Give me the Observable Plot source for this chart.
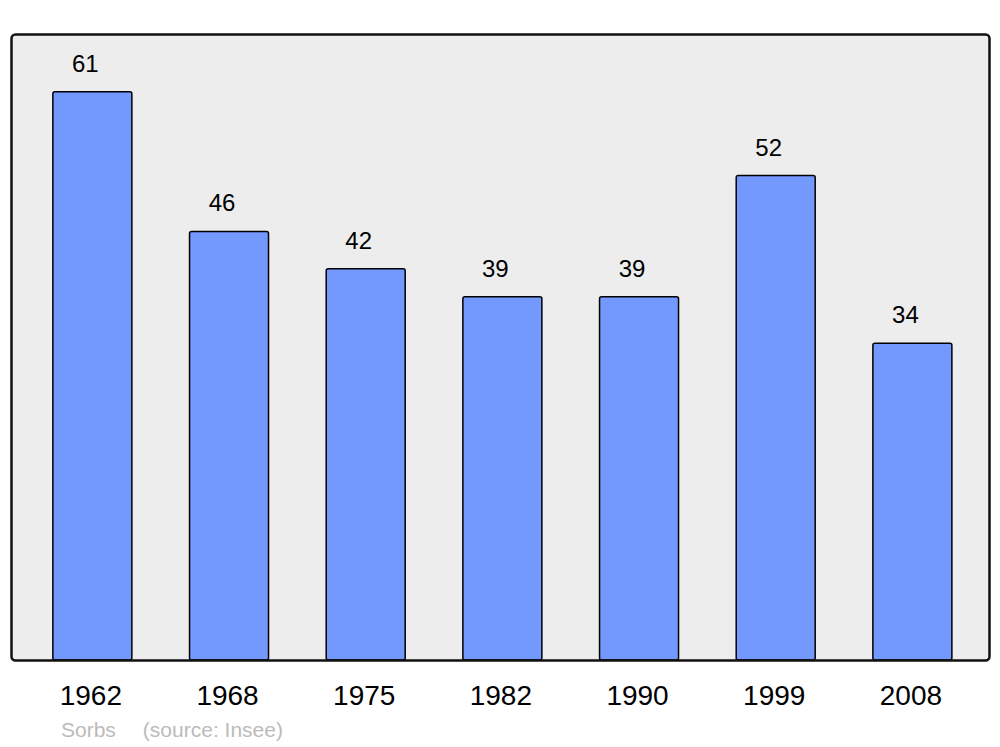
<!DOCTYPE html>
<html>
<head>
<meta charset="utf-8">
<script src="https://cdn.jsdelivr.net/npm/d3@7"></script>
<script src="https://cdn.jsdelivr.net/npm/@observablehq/plot@0.6"></script>
<style>
  body { margin: 0; background: #fff; font-family: "Liberation Sans", Arial, sans-serif; }
  #cap { margin: 7px 0 0 61px; font-size: 21px; color: #bbbbbb; line-height: 22px; white-space: pre; }
</style>
</head>
<body>
<div id="chart"></div>
<div id="cap">Sorbs<span style="margin-left:27px">(source: Insee)</span></div>
<script>
const years = ["1962", "1968", "1975", "1982", "1990", "1999", "2008"];
const population = [61, 46, 42, 39, 39, 52, 34];

const data = years.map((y, i) => ({year: y, value: population[i]}));

const chart = Plot.plot({
  width: 1000,
  height: 712,
  marginTop: 34,
  marginBottom: 52,
  marginLeft: 11,
  marginRight: 11,
  style: {fontFamily: "Liberation Sans, Arial, sans-serif", background: "white"},
  x: {domain: years, paddingInner: 0.422, paddingOuter: 0.289, align: 0.53, round: false, label: null},
  y: {domain: [0, 67.2], axis: null},
  marks: [
    Plot.frame({fill: "#ededed", stroke: "none", rx: 4}),
    Plot.barY(data, {x: "year", y: "value", fill: "#7399ff", stroke: "black", strokeWidth: 1.5, rx: 2}),
    Plot.text(data, {x: "year", y: "value", text: d => String(d.value), lineAnchor: "bottom", dy: -20.5, dx: -7.5, fontSize: 24, fill: "black"}),
    Plot.frame({fill: "none", stroke: "#111", strokeWidth: 2.5, rx: 4}),
    Plot.axisX({tickSize: 0, tickPadding: 25, fontSize: 28, dx: -2, fill: "black", label: null})
  ]
});
document.getElementById("chart").appendChild(chart);
</script>
</body>
</html>
